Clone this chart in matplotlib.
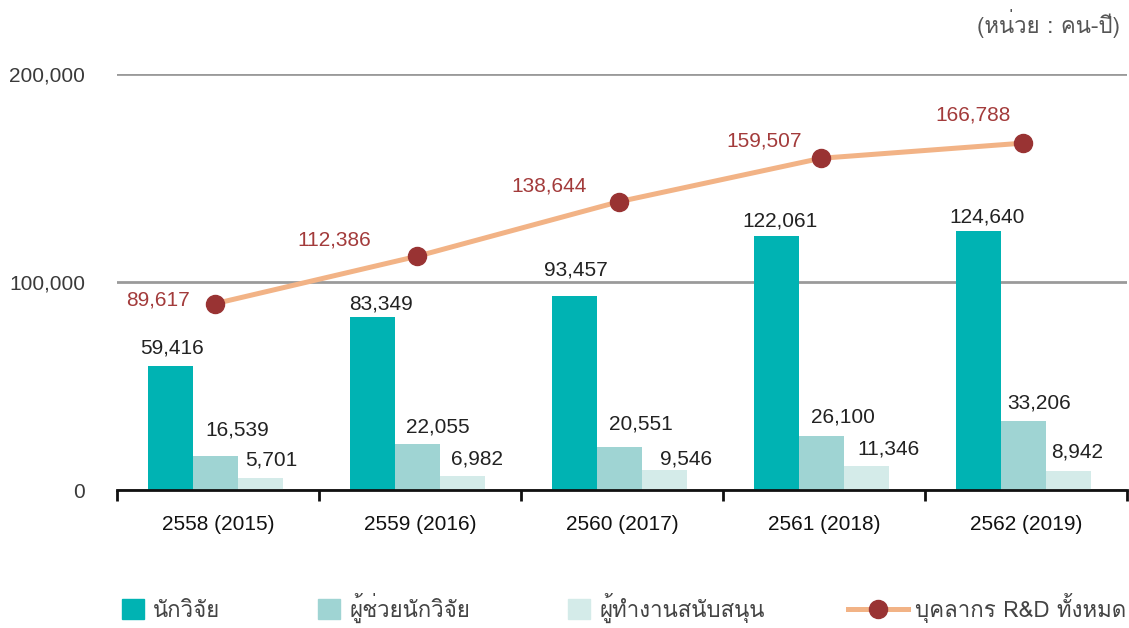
import matplotlib
matplotlib.use('Agg')
import matplotlib.pyplot as plt
from matplotlib import font_manager
from matplotlib.ft2font import FT2Font
from matplotlib.patches import Patch
from matplotlib.lines import Line2D
import numpy as np

years = ['2558 (2015)', '2559 (2016)', '2560 (2017)', '2561 (2018)', '2562 (2019)']
researchers = [59416, 83349, 93457, 122061, 124640]
assistants = [16539, 22055, 20551, 26100, 33206]
support = [5701, 6982, 9546, 11346, 8942]
total = [89617, 112386, 138644, 159507, 166788]
series_names = ['นักวิจัย', 'ผู้ช่วยนักวิจัย', 'ผู้ทำงานสนับสนุน', 'บุคลากร R&D ทั้งหมด']
unit_text = '(หน่วย : คน-ปี)'

# label nudges in pixels (the original places them by hand)
res_off = [(2, 18), (9, 13), (2, 26), (4, 15), (9, 14)]
ast_off = [(22, 26), (21, 17), (22, 23), (22, 19), (16, 18)]
sup_off = [(11, 18), (15, 17), (22, 11), (22, 17), (9, 19)]
tot_off = [(-57, 4), (-83, 16), (-70, 16), (-57, 17), (-50, 28)]


def find_thai_font():
    for f in font_manager.fontManager.ttflist:
        try:
            cmap = FT2Font(f.fname).get_charmap()
        except Exception:
            continue
        if 0x0E01 in cmap and 0x0E31 in cmap:
            return f.name
    return 'DejaVu Sans'


thai = find_thai_font()
plt.rcParams['font.family'] = ['Liberation Sans', thai, 'DejaVu Sans']
thai_family = [thai, 'Liberation Sans', 'DejaVu Sans']

c_res = '#00B3B3'
c_ast = '#9FD4D3'
c_sup = '#D4EBE9'
c_line = '#F2B386'
c_dot = '#993333'
c_lab = '#A33B3B'

fig = plt.figure(figsize=(11.29, 6.28), dpi=100)
ax = fig.add_axes([0.1036, 0.2197, 0.8946, 0.6624])

x = np.arange(len(years)) - 0.014
w = 0.223
b1 = ax.bar(x - w, researchers, w, color=c_res, zorder=2)
b2 = ax.bar(x, assistants, w, color=c_ast, zorder=2)
b3 = ax.bar(x + w, support, w, color=c_sup, zorder=2)

for bars, offs in [(b1, res_off), (b2, ast_off), (b3, sup_off)]:
    for r, off in zip(bars, offs):
        v = r.get_height()
        ax.annotate(f'{v:,.0f}', (r.get_x() + r.get_width() / 2, v),
                    xytext=off, textcoords='offset pixels',
                    ha='center', va='center', fontsize=15, color='#222222')

ax.plot(x, total, color=c_line, lw=3.6, zorder=3)
ax.plot(x, total, 'o', color=c_dot, ms=13, zorder=4)
for xi, v, off in zip(x, total, tot_off):
    ax.annotate(f'{v:,.0f}', (xi, v), xytext=off, textcoords='offset pixels',
                ha='center', va='center', fontsize=15, color=c_lab)

ax.set_xlim(-0.5, 4.5)
ax.set_ylim(0, 200000)
ax.set_yticks([0, 100000, 200000])
ax.set_yticklabels(['0', '100,000', '200,000'], fontsize=15, color='#3A3A3A')
ax.tick_params(axis='y', length=0, pad=23)
ax.yaxis.grid(True, color='#9A9A9A', lw=2)
ax.set_axisbelow(True)

ax.set_xticks(np.arange(len(years)))
ax.set_xticklabels(years, fontsize=15, color='#111111')
ax.set_xticks(np.arange(-0.5, 5), minor=True)
ax.tick_params(axis='x', which='major', length=0, pad=18)
ax.tick_params(axis='x', which='minor', length=8, width=2, color='#111111', direction='out')

for s in ['top', 'right', 'left']:
    ax.spines[s].set_visible(False)
ax.spines['bottom'].set_linewidth(2)
ax.spines['bottom'].set_color('#111111')

fig.text(0.992, 0.963, unit_text, ha='right', va='center', fontsize=16,
         color='#555555', family=thai_family)

bar_handles = [Patch(color=c_res), Patch(color=c_ast), Patch(color=c_sup)]
fig.legend(bar_handles, series_names[:3], loc='center left',
           bbox_to_anchor=(0.1081, 0.032), ncol=3, frameon=False,
           borderpad=0, borderaxespad=0,
           handlelength=1.0, handleheight=1.0, handletextpad=0.4,
           columnspacing=4.4, prop={'family': thai_family, 'size': 16},
           labelcolor='#444444')
line_handle = Line2D([], [], color=c_line, lw=3.6, marker='o', ms=13,
                     markerfacecolor=c_dot, markeredgecolor=c_dot)
fig.legend([line_handle], series_names[3:], loc='center left',
           bbox_to_anchor=(0.7511, 0.032), frameon=False,
           borderpad=0, borderaxespad=0,
           handlelength=2.7, handletextpad=0.3,
           prop={'family': thai_family, 'size': 16}, labelcolor='#444444')

fig.savefig('out.png', dpi=100)
